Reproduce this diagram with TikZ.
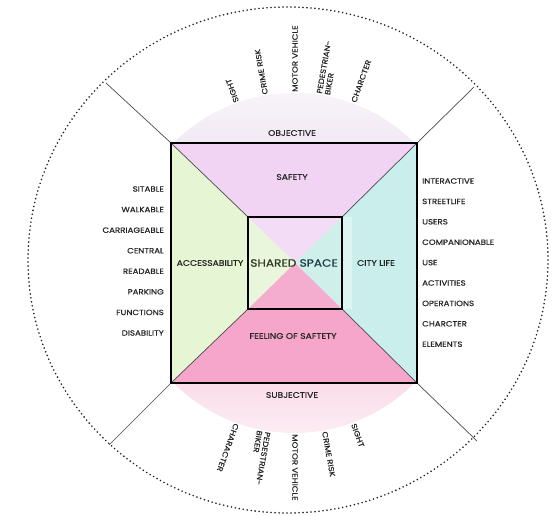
\documentclass[tikz,border=0pt]{standalone}
\usepackage{fontspec}
\setmainfont{Poppins}
\newfontfamily\lblfont[FakeStretch=1.15, FakeBold=0.6]{Poppins}
\usetikzlibrary{calc}
\definecolor{txt}{HTML}{262626}
\definecolor{safc}{HTML}{F1D3F4}
\definecolor{accc}{HTML}{E6F5D4}
\definecolor{cityc}{HTML}{C9EEEB}
\definecolor{feelc}{HTML}{F6A6CA}
\definecolor{safi}{HTML}{F3DCF5}
\definecolor{acci}{HTML}{E9F6DC}
\definecolor{cityi}{HTML}{CFEFEB}
\definecolor{feeli}{HTML}{F5ADCF}
\definecolor{objA}{HTML}{F2E9F4}
\definecolor{objB}{HTML}{F8F4F9}
\definecolor{subA}{HTML}{FADDE9}
\definecolor{subB}{HTML}{FCEDF3}
\definecolor{diagc}{HTML}{4A4A4A}
\definecolor{dotc}{HTML}{222222}
\definecolor{shA}{HTML}{2C3A26}
\definecolor{shB}{HTML}{1D3E46}
\begin{document}
\begin{tikzpicture}[x=1pt,y=1pt,
  lbl/.style={font=\lblfont\fontsize{7.5}{8.2}\selectfont, text=txt, inner sep=0pt},
  reg/.style={font=\lblfont\fontsize{8}{9}\selectfont, text=txt, inner sep=0pt},
  rad/.style={lbl, anchor=west, align=left},
  sqline/.style={draw=black, line width=1.4pt},
  diag/.style={draw=diagc, line width=0.7pt},
  dots/.style={draw=dotc, line width=1.8pt, line cap=round, dash pattern=on 0pt off 4pt}]
\useasboundingbox (0,0) rectangle (554,515);
\fill[white] (0,0) rectangle (554,515);

% key points
\coordinate (O1) at (171,132);
\coordinate (O2) at (417,132);
\coordinate (O3) at (417,372);
\coordinate (O4) at (171,372);
\coordinate (I1) at (248,206);
\coordinate (I2) at (342,206);
\coordinate (I3) at (342,298);
\coordinate (I4) at (248,298);
\coordinate (C) at (295,252);
\coordinate (E4) at (106,432);
\coordinate (E3) at (474,428);
\coordinate (E1) at (109,70);
\coordinate (E2) at (477,74);

% pale caps
\begin{scope}
  \clip (171,372) rectangle (417,440);
  \clip (294,252) circle (170);
  \shade[bottom color=objA, top color=objB] (171,372) rectangle (417,424);
\end{scope}
\begin{scope}
  \clip (171,132) rectangle (417,70);
  \clip (294,252) circle (170);
  \shade[top color=subA, bottom color=subB] (171,80) rectangle (417,132);
\end{scope}

% dotted circle
\draw[dots] (288,255) ellipse (260 and 253);

% outer rays
\draw[diag] (O1) -- (E1);
\draw[diag] (O2) -- (E2);
\draw[diag] (O3) -- (E3);
\draw[diag] (O4) -- (E4);

% trapezoids
\fill[safc] (O4) -- (O3) -- (I3) -- (I4) -- cycle;
\fill[accc] (O1) -- (O4) -- (I4) -- (I1) -- cycle;
\fill[cityc] (O2) -- (O3) -- (I3) -- (I2) -- cycle;
\fill[feelc] (O1) -- (O2) -- (I2) -- (I1) -- cycle;
\fill[cityc!65!white] (342,206) rectangle (352,298);
% inner triangles
\fill[safi] (I4) -- (I3) -- (C) -- cycle;
\fill[acci] (I1) -- (I4) -- (C) -- cycle;
\fill[cityi] (I2) -- (I3) -- (C) -- cycle;
\fill[feeli] (I1) -- (I2) -- (C) -- cycle;

% inner diagonals
\draw[diag] (O1) -- (I1);
\draw[diag] (O2) -- (I2);
\draw[diag] (O3) -- (I3);
\draw[diag] (O4) -- (I4);

% squares
\draw[sqline] (O1) rectangle (O3);
\draw[sqline] (I1) rectangle (I3);

% region labels
\node[reg] (obj) at (292,382) {OBJECTIVE};
\node[reg] (saf) at (292,338) {SAFETY};
\node[reg] (acc) at (210,252) {ACCESSABILITY};
\node[inner sep=0pt, font=\lblfont\fontsize{10.6}{12}\selectfont] (ss) at (294,252) {\textcolor{shA}{SHARED} \textcolor{shB}{SPACE}};
\node[reg] (city) at (376,252) {CITY LIFE};
\node[reg] (feel) at (293,179) {FEELING OF SAFTETY};
\node[reg] (subj) at (292,120) {SUBJECTIVE};

% left list
\foreach \t [count=\i] in {SITABLE,WALKABLE,CARRIAGEABLE,CENTRAL,READABLE,PARKING,FUNCTIONS,DISABILITY}
  \node[lbl, anchor=east] (l\i) at (164,{326-20.57*(\i-1)}) {\t};
% right list
\foreach \t [count=\i] in {INTERACTIVE,STREETLIFE,USERS,COMPANIONABLE,USE,ACTIVITIES,OPERATIONS,CHARCTER,ELEMENTS}
  \node[lbl, anchor=west] (r\i) at (422,{334-20.4*(\i-1)}) {\t};

% radial labels, top
\node[rad, rotate=110] (t1) at ($(C)+(110:171)$) {SIGHT};
\node[rad, rotate=100] (t2) at ($(C)+(100:171)$) {CRIME RISK};
\node[rad, rotate=90]  (t3) at ($(C)+(90:171)$) {MOTOR VEHICLE};
\node[rad, rotate=80]  (t4) at ($(C)+(80.5:171)$) {PEDESTRIAN-\\BIKER};
\node[rad, rotate=70]  (t5) at ($(C)+(70:171)$) {CHARCTER};
% radial labels, bottom
\node[rad, rotate=-110] (b1) at ($(C)+(-110:171)$) {CHARACTER};
\node[rad, rotate=-100] (b2) at ($(C)+(-100.5:171)$) {PEDESTRIAN-\\BIKER};
\node[rad, rotate=-90]  (b3) at ($(C)+(-90:171)$) {MOTOR VEHICLE};
\node[rad, rotate=-80]  (b4) at ($(C)+(-80:171)$) {CRIME RISK};
\node[rad, rotate=-70]  (b5) at ($(C)+(-70:171)$) {SIGHT};
\end{tikzpicture}
\end{document}
